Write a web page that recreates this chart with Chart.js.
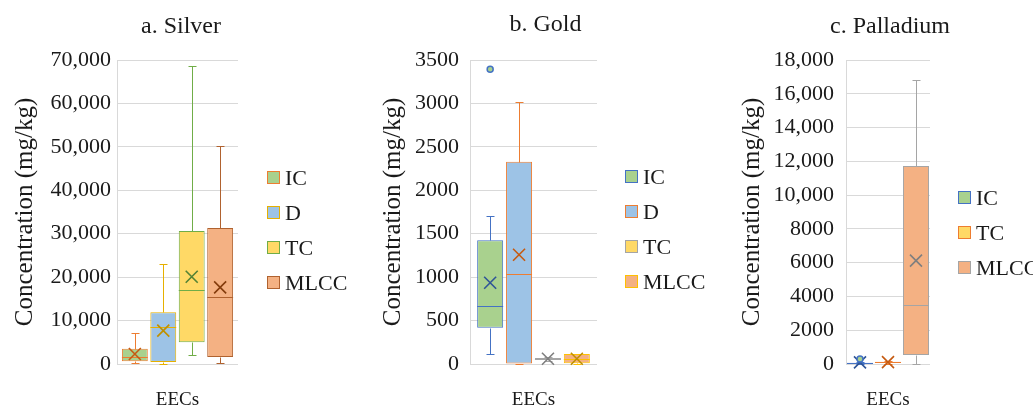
<!DOCTYPE html>
<html>
<head>
<meta charset="utf-8">
<script src="https://cdn.jsdelivr.net/npm/chart.js@4.4.1/dist/chart.umd.min.js"></script>
<style>
  html, body { margin: 0; padding: 0; background: #fff; }
  #wrap { position: relative; width: 1033px; height: 410px; overflow: hidden; }
  #wrap canvas { position: absolute; top: 0; }
  .legend { position: absolute; margin: 0; padding: 0; list-style: none;
    font-family: 'Liberation Serif', serif; font-size: 22px; color: #1a1a1a; }
  .legend li { display: flex; align-items: center; height: 35px; }
  .legend .box { display: block; width: 11px; height: 11px; border: 1px solid; margin-right: 5px; }
</style>
</head>
<body>
<div id="wrap">
  <canvas id="silver" width="350" height="410" style="left:0"></canvas>
  <canvas id="gold" width="370" height="410" style="left:350px"></canvas>
  <canvas id="palladium" width="313" height="410" style="left:720px"></canvas>
  <ul class="legend" id="silver-legend" style="left:267px;top:160px"></ul>
  <ul class="legend" id="gold-legend" style="left:625px;top:159px"></ul>
  <ul class="legend" id="palladium-legend" style="left:958px;top:180px;"></ul>
</div>
<script>
const categories = ['EECs'];

// a. Silver (mg/kg)
const silverSeries   = ['IC', 'D', 'TC', 'MLCC'];
const silverMin      = [150, 0, 2000, 150];
const silverQ1       = [620, 460, 5000, 1600];
const silverMedian   = [1540, 8500, 17100, 15350];
const silverQ3       = [3520, 11900, 30600, 31300];
const silverMax      = [7200, 22950, 68600, 50100];
const silverMean     = [2300, 7700, 20100, 17650];
const silverOutliers = [[], [], [], []];
const silverTicks    = [0, 10000, 20000, 30000, 40000, 50000, 60000, 70000];

// b. Gold (mg/kg)
const goldSeries   = ['IC', 'D', 'TC', 'MLCC'];
const goldMin      = [111, 5, 40, 5];
const goldQ1       = [418, 5, 50, 10];
const goldMedian   = [668, 1036, 60, 60];
const goldQ3       = [1424, 2329, 70, 115];
const goldMax      = [1707, 3020, 85, 120];
const goldMean     = [936, 1258, 60, 60];
const goldOutliers = [[3393], [], [], []];
const goldTicks    = [0, 500, 1000, 1500, 2000, 2500, 3000, 3500];

// c. Palladium (mg/kg)
const palladiumSeries   = ['IC', 'TC', 'MLCC'];
const palladiumMin      = [0, 20, 20];
const palladiumQ1       = [20, 60, 530];
const palladiumMedian   = [50, 100, 3500];
const palladiumQ3       = [80, 130, 11730];
const palladiumMax      = [120, 160, 16820];
const palladiumMean     = [100, 110, 6120];
const palladiumOutliers = [[300], [], []];
const palladiumTicks    = [0, 2000, 4000, 6000, 8000, 10000, 12000, 14000, 16000, 18000];

const FONT = "'Liberation Serif', serif";
const TEXT = '#1a1a1a';
const GRID = '#D9D9D9';

// Excel-like box colours
const fillGreen = '#A9D18E', fillBlue = '#9DC3E6', fillYellow = '#FFD966', fillOrange = '#F4B183';

const fmt = (v) => (v >= 10000 ? v.toLocaleString('en-US') : String(v));

// Whiskers, medians, mean crosses and outliers on top of the floating bars
const boxWhiskers = {
  id: 'boxWhiskers',
  afterDatasetsDraw(chart, args, opts) {
    const { ctx } = chart;
    const y = chart.scales.y;
    opts.stats.forEach((s, i) => {
      const bar = chart.getDatasetMeta(i).data[0];
      if (!bar) return;
      const x = Math.round(bar.x) + 0.5;
      const half = bar.width / 2;
      const col = chart.data.datasets[i].borderColor;
      const py = (v) => Math.round(y.getPixelForValue(v)) + 0.5;
      ctx.save();
      ctx.strokeStyle = col;
      ctx.lineWidth = 1;
      ctx.beginPath();
      // whiskers + caps
      ctx.moveTo(x, py(s.max)); ctx.lineTo(x, py(s.q3));
      ctx.moveTo(x - 4, py(s.max)); ctx.lineTo(x + 4, py(s.max));
      ctx.moveTo(x, py(s.q1)); ctx.lineTo(x, py(s.min));
      ctx.moveTo(x - 4, py(s.min)); ctx.lineTo(x + 4, py(s.min));
      // median
      ctx.moveTo(bar.x - half, py(s.median)); ctx.lineTo(bar.x + half, py(s.median));
      ctx.stroke();
      // mean cross
      const my = y.getPixelForValue(s.mean);
      ctx.strokeStyle = s.mark;
      ctx.lineWidth = 1.6;
      ctx.beginPath();
      ctx.moveTo(bar.x - 6, my - 6); ctx.lineTo(bar.x + 6, my + 6);
      ctx.moveTo(bar.x + 6, my - 6); ctx.lineTo(bar.x - 6, my + 6);
      ctx.stroke();
      // outliers
      ctx.lineWidth = 1.5;
      ctx.strokeStyle = col;
      ctx.fillStyle = chart.data.datasets[i].backgroundColor;
      s.outliers.forEach((v) => {
        ctx.beginPath();
        ctx.arc(bar.x, y.getPixelForValue(v), 3, 0, Math.PI * 2);
        ctx.fill();
        ctx.stroke();
      });
      ctx.restore();
    });
  },
};

// Panel title centred over the plot area (not clipped to its width)
const panelTitle = {
  id: 'panelTitle',
  afterDraw(chart, args, opts) {
    const { ctx, chartArea } = chart;
    ctx.save();
    ctx.font = `24px ${FONT}`;
    ctx.fillStyle = TEXT;
    ctx.textAlign = 'center';
    ctx.textBaseline = 'middle';
    ctx.fillText(opts.text, (chartArea.left + chartArea.right) / 2 + opts.dx, opts.y);
    ctx.restore();
  },
};

// Legend in HTML, built from the chart's own legend items
const htmlLegend = {
  id: 'htmlLegend',
  afterUpdate(c, args, options) {
    const ul = document.getElementById(options.containerID);
    if (!ul) return;
    while (ul.firstChild) ul.firstChild.remove();
    const items = c.options.plugins.legend.labels.generateLabels(c);
    items.forEach((item) => {
      const li = document.createElement('li');
      const box = document.createElement('span');
      box.className = 'box';
      box.style.background = item.fillStyle;
      box.style.borderColor = item.strokeStyle;
      const label = document.createElement('span');
      label.textContent = item.text;
      li.appendChild(box);
      li.appendChild(label);
      ul.appendChild(li);
    });
  },
};

const makePanel = (cfg) => {
  const stats = cfg.series.map((_, i) => ({
    min: cfg.min[i], q1: cfg.q1[i], median: cfg.median[i], q3: cfg.q3[i],
    max: cfg.max[i], mean: cfg.mean[i], outliers: cfg.outliers[i], mark: cfg.mark[i],
  }));
  return new Chart(document.getElementById(cfg.id), {
    type: 'bar',
    data: {
      labels: categories,
      datasets: cfg.series.map((name, i) => ({
        label: name,
        data: [[cfg.q1[i], cfg.q3[i]]],
        backgroundColor: cfg.fill[i],
        borderColor: cfg.line[i],
        borderWidth: 1,
        borderSkipped: false,
        categoryPercentage: cfg.cp,
        barPercentage: cfg.bp,
      })),
    },
    options: {
      responsive: false,
      animation: false,
      layout: { padding: { left: cfg.padLeft, right: cfg.padRight, top: 60, bottom: 0 } },
      scales: {
        x: {
          grid: { display: false },
          border: { display: false },
          ticks: { color: TEXT, padding: 17, font: { family: FONT, size: 19 } },
          afterFit: (s) => { s.height = 46; },
        },
        y: {
          min: cfg.ticks[0],
          max: cfg.ticks[cfg.ticks.length - 1],
          afterBuildTicks: (s) => { s.ticks = cfg.ticks.map((v) => ({ value: v })); },
          afterFit: (s) => { s.width = cfg.yWidth; },
          grid: { color: GRID, drawTicks: false },
          border: { display: true, color: GRID },
          ticks: {
            color: TEXT,
            padding: cfg.tickPad,
            font: { family: FONT, size: 22 },
            callback: (v) => fmt(v),
          },
          title: {
            display: true,
            text: 'Concentration (mg/kg)',
            color: TEXT,
            padding: 0,
            font: { family: FONT, size: 25 },
          },
        },
      },
      plugins: {
        legend: { display: false },
        tooltip: { enabled: false },
        title: { display: false },
        panelTitle: { text: cfg.title, dx: cfg.titleDx, y: cfg.titleY },
        htmlLegend: { containerID: cfg.id + '-legend' },
        boxWhiskers: { stats },
      },
    },
    plugins: [boxWhiskers, panelTitle, htmlLegend],
  });
};

makePanel({
  id: 'silver', title: 'a. Silver', series: silverSeries,
  min: silverMin, q1: silverQ1, median: silverMedian, q3: silverQ3, max: silverMax,
  mean: silverMean, outliers: silverOutliers, ticks: silverTicks,
  fill: [fillGreen, fillBlue, fillYellow, fillOrange],
  line: ['#ED7D31', '#E6B000', '#70AD47', '#B0622F'],
  mark: ['#C55A11', '#BF9000', '#548235', '#843C0C'],
  padLeft: 10, yWidth: 107, padRight: 112, tickPad: 6, cp: 0.94, bp: 0.91,
  titleDx: 3.5, titleY: 27,
});

makePanel({
  id: 'gold', title: 'b. Gold', series: goldSeries,
  min: goldMin, q1: goldQ1, median: goldMedian, q3: goldQ3, max: goldMax,
  mean: goldMean, outliers: goldOutliers, ticks: goldTicks,
  fill: [fillGreen, fillBlue, fillYellow, fillOrange],
  line: ['#4472C4', '#ED7D31', '#A5A5A5', '#FFC000'],
  mark: ['#2F5597', '#C55A11', '#7F7F7F', '#BF9000'],
  padLeft: 28, yWidth: 92, padRight: 123, tickPad: 11, cp: 0.91, bp: 0.9,
  titleDx: 12, titleY: 25,
});

makePanel({
  id: 'palladium', title: 'c. Palladium', series: palladiumSeries,
  min: palladiumMin, q1: palladiumQ1, median: palladiumMedian, q3: palladiumQ3, max: palladiumMax,
  mean: palladiumMean, outliers: palladiumOutliers, ticks: palladiumTicks,
  fill: [fillGreen, fillYellow, fillOrange],
  line: ['#4472C4', '#ED7D31', '#A5A5A5'],
  mark: ['#2F5597', '#C55A11', '#7F7F7F'],
  padLeft: 17, yWidth: 109, padRight: 103, tickPad: 12, cp: 1.0, bp: 0.93,
  titleDx: 2, titleY: 27,
});
</script>
</body>
</html>
